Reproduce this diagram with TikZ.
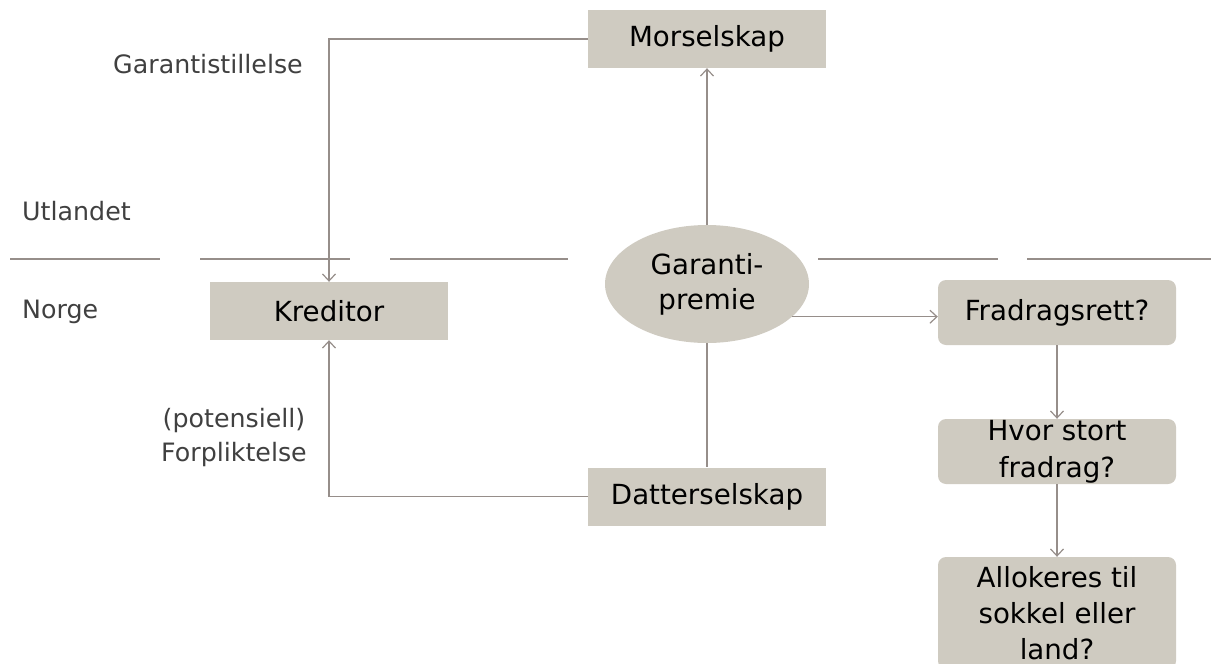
\documentclass[tikz,border=0pt]{standalone}
\usepackage{fontspec}
\setmainfont{DejaVu Sans}
\usetikzlibrary{arrows.meta,shapes.geometric}
\definecolor{boxfill}{RGB}{207,203,193}
\definecolor{linec}{RGB}{150,142,138}
\definecolor{labelc}{RGB}{64,64,64}
\tikzset{
  boxtext/.style={font=\fontsize{27.7}{37}\selectfont, text=black, align=center, inner sep=0pt},
  sqbox/.style={boxtext, rectangle, fill=boxfill, minimum width=238pt, minimum height=58pt},
  rbox/.style={boxtext, rectangle, rounded corners=8pt, fill=boxfill, minimum width=238pt, minimum height=65pt},
  ellbox/.style={boxtext, ellipse, fill=boxfill, minimum width=204pt, minimum height=118pt, font=\fontsize{27.7}{35}\selectfont},
  conn/.style={draw=linec, line width=1.2pt},
  arr/.style={conn, -{Straight Barb[length=7pt,width=13pt,line width=1.2pt]}},
  lbl/.style={font=\fontsize{25.3}{34}\selectfont, text=labelc, inner sep=0pt, align=center}
}
\begin{document}
\begin{tikzpicture}[x=1pt,y=-1pt]
\useasboundingbox (0,0) rectangle (1213,664);
\begin{scope}
\clip (0,0) rectangle (1213,664);
% border dividing lines
\draw[conn] (10,259) -- (160,259);
\draw[conn] (200,259) -- (350,259);
\draw[conn] (390,259) -- (568,259);
\draw[conn] (818,259) -- (998,259);
\draw[conn] (1027,259) -- (1211,259);

\node[sqbox] (mor) at (707,39) {Morselskap};
\node[sqbox] (kred) at (329,311) {Kreditor};
\node[sqbox] (datt) at (707,496.5) {Datterselskap};
\node[ellbox] (gar) at (707,284) {Garanti-\\premie};
\node[rbox] (frad) at (1057,312.5) {Fradragsrett?};
\node[rbox] (hvor) at (1057,451.5) {Hvor stort\\fradrag?};
\node[rbox, minimum height=112pt, font=\fontsize{27.7}{36}\selectfont] (allo) at (1057,613) {Allokeres til\\sokkel eller\\land?};

\node[lbl] (garst) at (208,64) {Garantistillelse};
\node[lbl, anchor=west] (utl) at (22,211) {Utlandet};
\node[lbl, anchor=west] (nor) at (22,312) {Norge};
\node[lbl] (forp) at (234,438) {(potensiell)\\Forpliktelse};

\draw[arr] (mor.west) -| (kred.north);
\draw[arr] (datt.west) -| (kred.south);
\draw[arr] (gar.north) -- (mor.south);
\draw[conn] (gar.south) -- (datt.north);
\draw[arr] (gar.-21) -- (gar.-21 -| frad.west);
\draw[arr] (frad.south) -- (hvor.north);
\draw[arr] (hvor.south) -- (allo.north);
\end{scope}
\end{tikzpicture}
\end{document}
